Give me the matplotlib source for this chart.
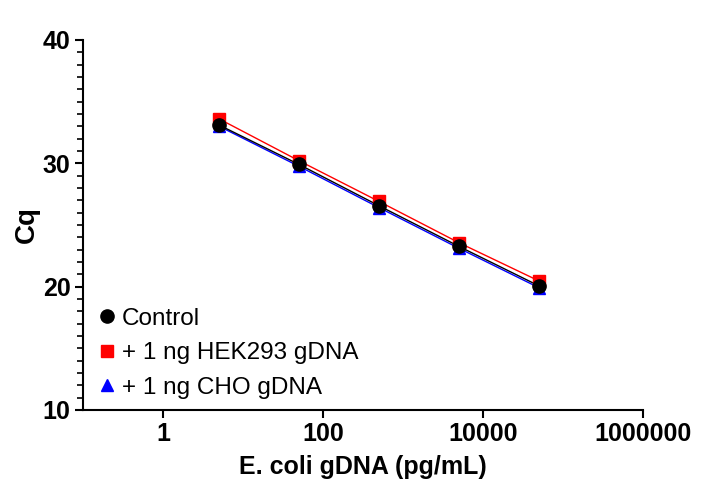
import matplotlib
matplotlib.use("Agg")
import matplotlib.pyplot as plt
from matplotlib.ticker import FixedLocator, MultipleLocator, NullLocator

plt.rcParams['font.family'] = ['Liberation Sans', 'DejaVu Sans']

conc = [5, 50, 500, 5000, 50000]
control = [33.1, 29.9, 26.55, 23.25, 20.05]
hek293 = [33.6, 30.2, 26.9, 23.55, 20.45]
cho = [33.0, 29.75, 26.4, 23.1, 19.9]
x_ticks = [1, 100, 10000, 1000000]
x_tick_labels = ["1", "100", "10000", "1000000"]
y_ticks = [10, 20, 30, 40]

fig = plt.figure(figsize=(7.21, 4.98), dpi=100)
ax = fig.add_axes([0.115, 0.177, 0.777, 0.743])

# lines
ax.plot(conc, hek293, color='red', lw=1.0, zorder=2)
ax.plot(conc, cho, color='blue', lw=1.0, zorder=2)
ax.plot(conc, control, color='black', lw=1.0, zorder=2)
# markers
ax.plot(conc, cho, ls='none', marker='^', ms=9, color='blue', zorder=3, label='+ 1 ng CHO gDNA')
ax.plot(conc, hek293, ls='none', marker='s', ms=8.5, color='red', zorder=4, label='+ 1 ng HEK293 gDNA')
ax.plot(conc, control, ls='none', marker='o', ms=9.5, color='black', zorder=5, label='Control')

ax.set_xscale('log')
ax.set_xlim(0.1, 1e6)
ax.set_ylim(10, 40)
ax.xaxis.set_major_locator(FixedLocator(x_ticks))
ax.set_xticklabels(x_tick_labels)
ax.xaxis.set_minor_locator(NullLocator())
ax.yaxis.set_major_locator(FixedLocator(y_ticks))
ax.yaxis.set_minor_locator(MultipleLocator(1))

for s in ['top', 'right']:
    ax.spines[s].set_visible(False)
for s in ['left', 'bottom']:
    ax.spines[s].set_linewidth(1.5)

ax.tick_params(axis='both', which='major', length=6, width=1.5, labelsize=18, pad=3)
ax.tick_params(axis='y', which='minor', length=4, width=1.2)
for lab in ax.get_xticklabels() + ax.get_yticklabels():
    lab.set_fontweight('bold')

ax.set_xlabel('E. coli gDNA (pg/mL)', fontsize=18, fontweight='bold', labelpad=6)
ax.set_ylabel('Cq', fontsize=20, fontweight='bold')
ax.yaxis.set_label_coords(-0.077, 0.5)

handles, labels = ax.get_legend_handles_labels()
order = [2, 1, 0]
ax.legend([handles[i] for i in order], [labels[i] for i in order],
          loc='lower left', bbox_to_anchor=(0.0, -0.01), frameon=False,
          fontsize=17.5, handlelength=0.8, handletextpad=0.2, labelspacing=0.52,
          borderaxespad=0.2)

fig.savefig('out.png', dpi=100)
